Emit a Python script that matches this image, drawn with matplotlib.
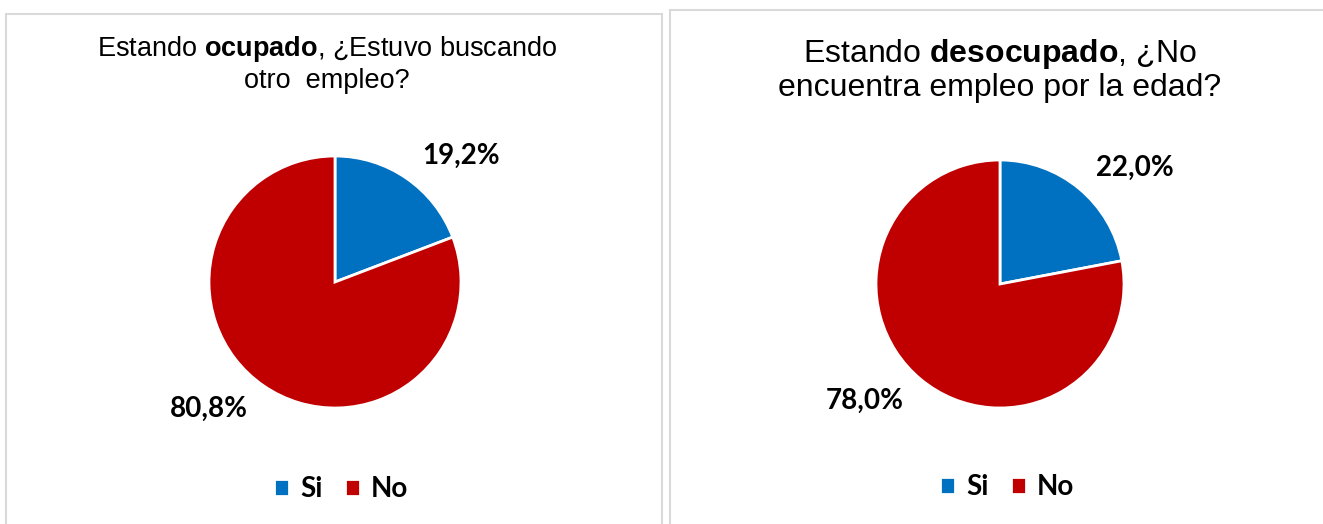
import numpy as np
import matplotlib
matplotlib.use("Agg")
import matplotlib.pyplot as plt
from matplotlib.patches import Rectangle

plt.rcParams["font.family"] = ["Liberation Sans", "DejaVu Sans"]
plt.rcParams["mathtext.fontset"] = "custom"
plt.rcParams["mathtext.rm"] = "Liberation Sans"
plt.rcParams["mathtext.bf"] = "Liberation Sans:bold"

# data
categories = ["Si", "No"]
ocupado_pct = [19.2, 80.8]
desocupado_pct = [22.0, 78.0]
titles = [
    "Estando $\\bf{ocupado}$, ¿Estuvo buscando\notro  empleo?",
    "Estando $\\bf{desocupado}$, ¿No\nencuentra empleo por la edad?",
]
colors = ["#0070C0", "#C00000"]

W, H = 1323, 524
fig = plt.figure(figsize=(W / 100, H / 100), dpi=100)
fig.patch.set_facecolor("white")


def px_axes(cx, cy, r):
    # axes in pixel coords (top-left origin) around a pie center
    return fig.add_axes([(cx - r) / W, 1 - (cy + r) / H, 2 * r / W, 2 * r / H])


def box(x0, y0, x1, y1):
    fig.add_artist(Rectangle((x0 / W, 1 - y1 / H), (x1 - x0) / W, (y1 - y0) / H,
                             transform=fig.transFigure, fill=False,
                             edgecolor="#D9D9D9", linewidth=1.5))


box(6, 14, 662, 540)
box(670, 10, 1340, 540)

panels = [
    dict(vals=ocupado_pct, title=titles[0], cx=335, cy=282, r=126, tx=327, ty=64,
         tsize=19.5, lsp=1.18, ly=489, lx=341),
    dict(vals=desocupado_pct, title=titles[1], cx=1000, cy=284, r=124, tx=1000, ty=70,
         tsize=23, lsp=1.12, ly=487, lx=1007),
]

for p in panels:
    ax = px_axes(p["cx"], p["cy"], p["r"])
    wedges, _ = ax.pie(p["vals"], colors=colors, startangle=90, counterclock=False,
                       radius=1, wedgeprops=dict(edgecolor="white", linewidth=2))
    ax.set_xlim(-1, 1)
    ax.set_ylim(-1, 1)
    ax.set_aspect("equal")
    ax.axis("off")

    start = 0.0
    for v in p["vals"]:
        mid = np.deg2rad((start + v / 2) * 3.6)
        start += v
        x, y = 1.22 * np.sin(mid), 1.22 * np.cos(mid)
        ax.text(x, y, f"{v:.1f}%".replace(".", ","), ha="left" if x > 0 else "right",
                va="center", fontsize=20, fontweight="bold", family=["Lato", "DejaVu Sans"],
                clip_on=False)

    fig.text(p["tx"] / W, 1 - p["ty"] / H, p["title"], ha="center", va="center",
             fontsize=p["tsize"], linespacing=p["lsp"])

    fig.legend(wedges, categories, loc="center", ncol=2, frameon=False,
               bbox_to_anchor=(p["lx"] / W, 1 - p["ly"] / H),
               handlelength=0.55, handleheight=0.55, handletextpad=0.4, columnspacing=0.8,
               prop=dict(family=["Lato", "DejaVu Sans"], weight="bold", size=20))

fig.savefig("out.png", dpi=100)
